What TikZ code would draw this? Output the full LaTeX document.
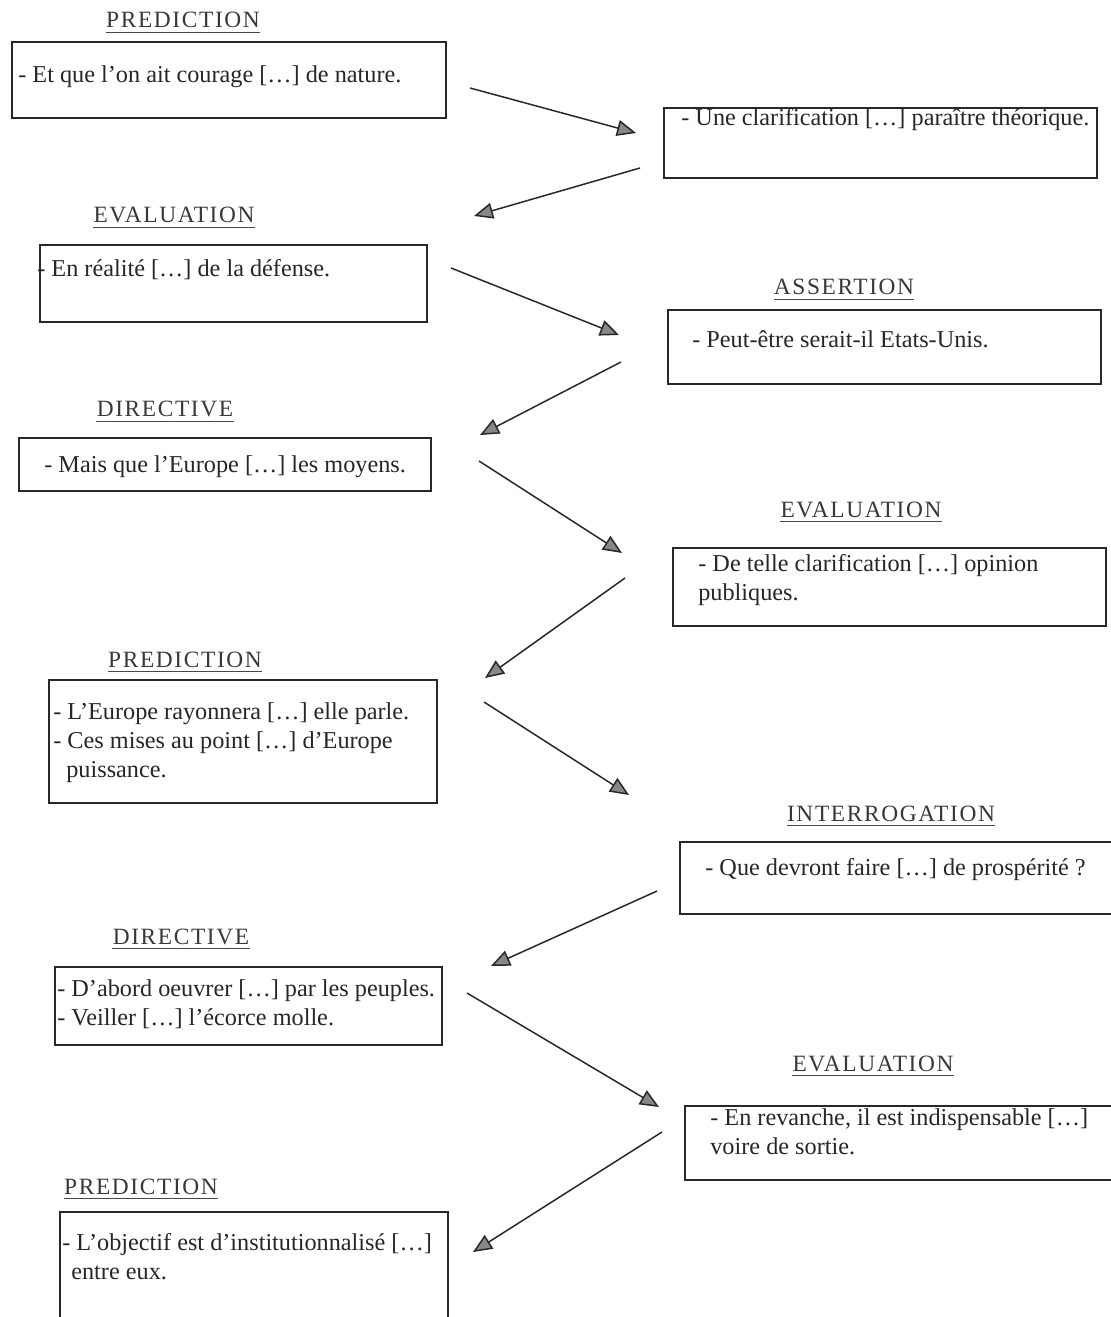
\documentclass[tikz,border=0pt]{standalone}
\usepackage{fontspec}
\setmainfont{Liberation Serif}
\newfontfamily\headfont[LetterSpace=7]{Liberation Serif}
\usetikzlibrary{arrows.meta,fit}
\definecolor{inkgrey}{RGB}{40,40,40}
\definecolor{tipgrey}{RGB}{135,135,135}
\tikzset{
  tbox/.style     ={rectangle, draw=inkgrey, line width=0.9pt, inner sep=0pt},
  tline/.style    ={font=\fontsize{13.8}{16.3}\selectfont, text=black!85,
                    inner sep=0pt, anchor=base west, align=left},
  thead/.style    ={font=\headfont\fontsize{13.3}{16}\selectfont, text=black!78,
                    inner sep=0pt, anchor=base},
  theadrule/.style={line width=1pt, black!72},
  tflow/.style    ={-{Triangle[length=3.8mm, width=3.2mm, fill=tipgrey]},
                    line width=0.85pt, inkgrey},
}

\begin{document}
\begin{tikzpicture}[x=0.02cm, y=-0.02cm]
  \useasboundingbox (0,0) rectangle (1111,1317);

  % ---- boxes: number/left/top/right/bottom ---------------------------------
  \foreach \n/\l/\t/\r/\b in {1/12/42/446/118, 2/664/108/1097/178,
                              3/40/245/427/322, 4/668/310/1101/384,
                              5/19/438/431/491, 6/673/548/1106/626,
                              7/49/680/437/803, 8/680/842/1113/914,
                              9/55/967/442/1045, 10/685/1106/1116/1180,
                              11/60/1212/448/1324} {
    \node[tbox, fit={(\l,\t) (\r,\b)}] (b\n) {};
  }

  % ---- headings ------------------------------------------------------------
  \node[thead] (h1)  at (183,28)   {PREDICTION};
  \node[thead] (h2)  at (174,223)  {EVALUATION};
  \node[thead] (h3)  at (844,295)  {ASSERTION};
  \node[thead] (h4)  at (165,417)  {DIRECTIVE};
  \node[thead] (h5)  at (861,517)  {EVALUATION};
  \node[thead] (h6)  at (185,667)  {PREDICTION};
  \node[thead] (h7)  at (891,821)  {INTERROGATION};
  \node[thead] (h8)  at (181,944)  {DIRECTIVE};
  \node[thead] (h9)  at (873,1071) {EVALUATION};
  \node[thead] (h10) at (141,1194) {PREDICTION};
  \foreach \h in {1,...,10} {
    \draw[theadrule] ([yshift=-2.6pt]h\h.base west) -- ([yshift=-2.6pt]h\h.base east);
  }

  % ---- texts (multi-line ones sit on their last baseline) -------------------
  \node[tline] (t1)  at (18,83)    {- Et que l’on ait courage […] de nature.};
  \node[tline] (t2)  at (681,126)  {- Une clarification […] paraître théorique.};
  \node[tline] (t3)  at (37,277)   {- En réalité […] de la défense.};
  \node[tline] (t4)  at (692,348)  {- Peut-être serait-il Etats-Unis.};
  \node[tline] (t5)  at (44,472)   {- Mais que l’Europe […] les moyens.};
  \node[tline] (t6)  at (698,600)  {- De telle clarification […] opinion\\publiques.};
  \node[tline] (t7)  at (53,777)   {- L’Europe rayonnera […] elle parle.\\
                                    - Ces mises au point […] d’Europe\\
                                    \hspace*{0.26cm}puissance.};
  \node[tline] (t8)  at (705,875)  {- Que devront faire […] de prospérité ?};
  \node[tline] (t9)  at (57,1025)  {- D’abord oeuvrer […] par les peuples.\\
                                    - Veiller […] l’écorce molle.};
  \node[tline] (t10) at (710,1154) {- En revanche, il est indispensable […]\\
                                    voire de sortie.};
  \node[tline] (t11) at (62,1279)  {- L’objectif est d’institutionnalisé […]\\
                                    \hspace*{0.18cm}entre eux.};

  % ---- zig-zag arrows ------------------------------------------------------
  \foreach \i/\sx/\sy/\ex/\ey in {1/470/88/636/133, 2/640/168/474/216,
                                  3/451/268/619/335, 4/621/362/480/435,
                                  5/479/461/622/553, 6/625/578/485/678,
                                  7/484/702/629/795, 8/657/891/491/966,
                                  9/467/993/659/1107, 10/662/1132/473/1252} {
    \coordinate (s\i) at (\sx,\sy);
    \coordinate (e\i) at (\ex,\ey);
    \draw[tflow] (s\i) -- (e\i);
  }
\end{tikzpicture}
\end{document}
